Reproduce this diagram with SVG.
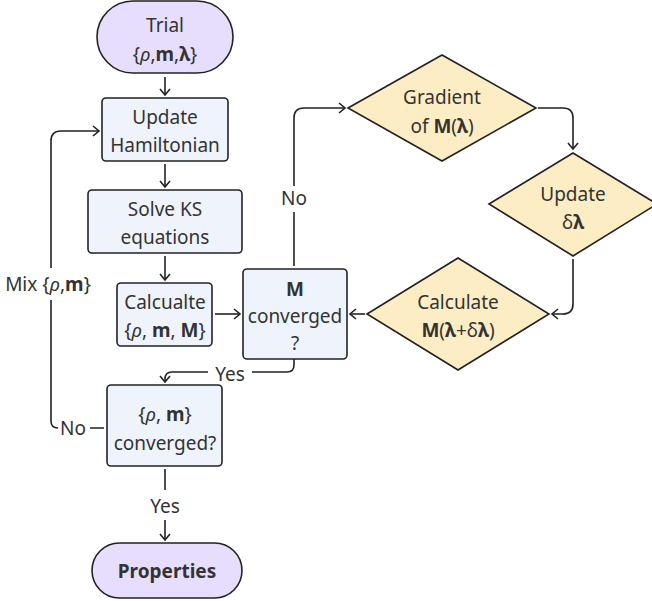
<svg xmlns="http://www.w3.org/2000/svg" width="652" height="601" viewBox="0 0 652 601">
<defs>
<marker id="ah" markerUnits="userSpaceOnUse" markerWidth="12" markerHeight="12" refX="8" refY="6" orient="auto">
<path d="M2,1 L8,6 L2,11" fill="none" stroke="#222" stroke-width="1.6"/>
</marker>
<style>
text{font-family:"Source Sans Pro","Noto Sans","Liberation Sans",sans-serif;font-size:19px;fill:#333;text-anchor:middle;dominant-baseline:central}
.box{fill:#eef3fc;stroke:#222;stroke-width:1.6}
.term{fill:#e6defc;stroke:#222;stroke-width:1.6}
.dia{fill:#fdedc5;stroke:#222;stroke-width:1.6}
.c{fill:none;stroke:#222;stroke-width:1.6}
.lbg{fill:#fff}
.b{font-weight:bold}
.i{font-style:italic}
</style>
</defs>
<rect width="652" height="601" fill="#fff"/>
<g id="connectors">
<path class="c" d="M165,77 L165,95" marker-end="url(#ah)"/>
<path class="c" d="M165,164 L165,187" marker-end="url(#ah)"/>
<path class="c" d="M165,256 L165,280" marker-end="url(#ah)"/>
<path class="c" d="M215,314 L240,314" marker-end="url(#ah)"/>
<path class="c" d="M294,266 L294,118 Q294,108 304,108 L345,108" marker-end="url(#ah)"/>
<path class="c" d="M538,108 L563,108 Q573,108 573,118 L573,149" marker-end="url(#ah)"/>
<path class="c" d="M573,259 L573,304 Q573,314 563,314 L552,314" marker-end="url(#ah)"/>
<path class="c" d="M365,314 L350,314" marker-end="url(#ah)"/>
<path class="c" d="M294,359 L294,365 Q294,372 287,372 L172,372 Q165,372 165,379 L165,382" marker-end="url(#ah)"/>
<path class="c" d="M104,428 L58,428 Q51,428 51,421 L51,141 Q51,131 61,131 L99,131" marker-end="url(#ah)"/>
<path class="c" d="M165,469 L165,540" marker-end="url(#ah)"/>
<rect class="lbg" x="280" y="186" width="28" height="26"/>
<text x="294" y="198">No</text>
<rect class="lbg" x="208" y="362" width="44" height="24"/>
<text x="230" y="374">Yes</text>
<rect class="lbg" x="58" y="416" width="32" height="24"/>
<text x="73" y="428">No</text>
<rect class="lbg" x="2" y="268" width="92" height="32"/>
<text x="48" y="284">Mix {<tspan class="i">ρ</tspan>,<tspan class="b">m</tspan>}</text>
<rect class="lbg" x="146" y="490" width="38" height="30"/>
<text x="165" y="506">Yes</text>
</g>
<g id="trial">
<rect class="term" x="97" y="1" width="136" height="72" rx="36"/>
<text x="165" y="25">Trial</text>
<text x="165" y="54">{<tspan class="i">ρ</tspan>,<tspan class="b">m</tspan>,<tspan class="b">λ</tspan>}</text>
</g>
<g id="update-hamiltonian">
<rect class="box" x="102" y="98" width="126" height="63" rx="4"/>
<text x="165" y="117">Update</text>
<text x="165" y="145">Hamiltonian</text>
</g>
<g id="solve-ks">
<rect class="box" x="88" y="190" width="154" height="63" rx="4"/>
<text x="165" y="209">Solve KS</text>
<text x="165" y="237">equations</text>
</g>
<g id="calculate">
<rect class="box" x="117" y="283" width="95" height="63" rx="4"/>
<text x="165" y="302">Calcualte</text>
<text x="165" y="330">{<tspan class="i">ρ</tspan>, <tspan class="b">m</tspan>, <tspan class="b">M</tspan>}</text>
</g>
<g id="m-converged">
<rect class="box" x="243" y="269" width="104" height="90" rx="4"/>
<text x="295" y="289" class="b">M</text>
<text x="295" y="316">converged</text>
<text x="295" y="343">?</text>
</g>
<g id="gradient">
<polygon class="dia" points="348,108 442,55 536,108 442,161"/>
<text x="442" y="97">Gradient</text>
<text x="442" y="126">of <tspan class="b">M</tspan>(<tspan class="b">λ</tspan>)</text>
</g>
<g id="update-dl">
<polygon class="dia" points="489,204 573,153 657,204 573,256"/>
<text x="573" y="194">Update</text>
<text x="573" y="222">δ<tspan class="b">λ</tspan></text>
</g>
<g id="calc-m">
<polygon class="dia" points="367,314 458,258 549,314 458,370"/>
<text x="458" y="302">Calculate</text>
<text x="458" y="330"><tspan class="b">M</tspan>(<tspan class="b">λ</tspan>+δ<tspan class="b">λ</tspan>)</text>
</g>
<g id="rho-m-converged">
<rect class="box" x="107" y="385" width="115" height="81" rx="4"/>
<text x="165" y="414">{<tspan class="i">ρ</tspan>, <tspan class="b">m</tspan>}</text>
<text x="165" y="443">converged?</text>
</g>
<g id="properties">
<rect class="term" x="92" y="543" width="150" height="55" rx="27.5"/>
<text x="167" y="571" class="b">Properties</text>
</g>
</svg>
